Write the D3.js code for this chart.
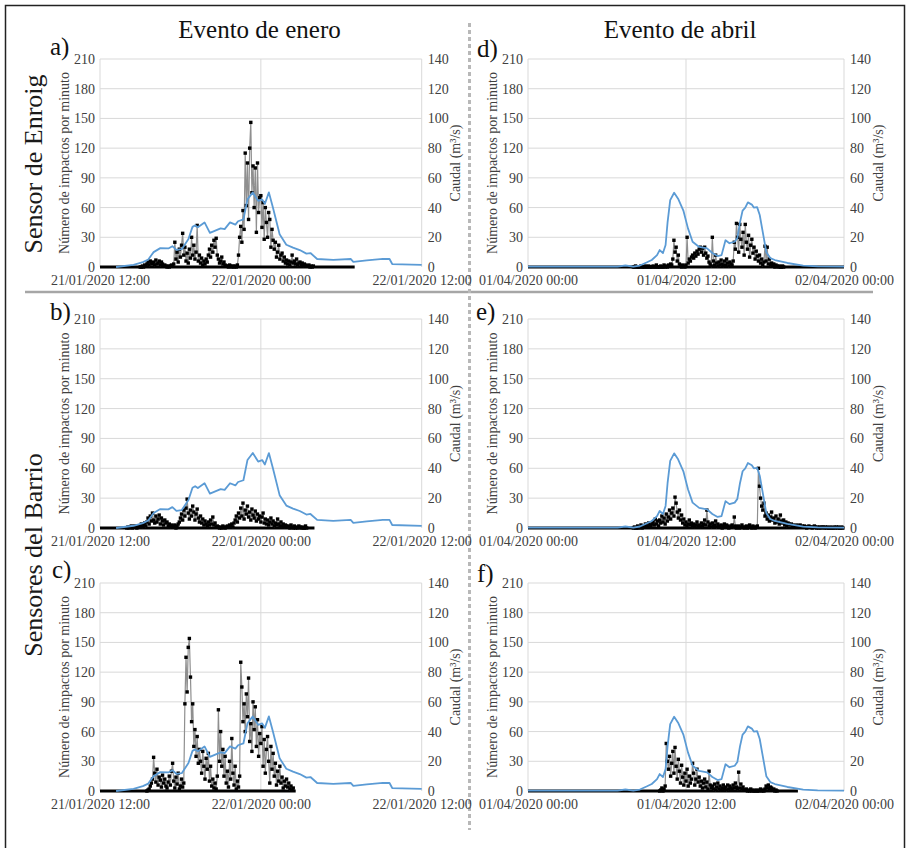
<!DOCTYPE html>
<html><head><meta charset="utf-8">
<script src="https://cdn.jsdelivr.net/npm/d3@7"></script>
<style>
html,body{margin:0;padding:0;background:#fff;}
svg{display:block;}
svg text{font-family:"Liberation Serif","Times New Roman",serif;}
</style></head>
<body>
<svg id="chart" width="907" height="848"></svg>
<script>
// ---------------- DATA ----------------
const yLeftTicks = [0, 30, 60, 90, 120, 150, 180, 210];
const yRightTicks = [0, 20, 40, 60, 80, 100, 120, 140];
const janTickLabels = ["21/01/2020 12:00", "22/01/2020 00:00", "22/01/2020 12:00"];
const aprTickLabels = ["01/04/2020 00:00", "01/04/2020 12:00", "02/04/2020 00:00"];
const columnTitles = ["Evento de enero", "Evento de abril"];
const rowTitles = ["Sensor de Enroig", "Sensores del Barrio"];
const panelLetters = ["a)", "b)", "c)", "d)", "e)", "f)"];
const leftAxisTitle = "Número de impactos por minuto";
const rightAxisTitle = "Caudal (m³/s)";

// Flow (Caudal, m3/s) – hours after 21/01/2020 12:00
const janFlowHours = [1.2,2.5,3.2,3.6,4.0,4.5,5.1,5.4,5.7,6.1,6.6,6.9,7.1,7.3,7.8,8.2,8.6,9.0,9.3,9.7,10.1,10.3,10.7,11.0,11.4,11.8,12.1,12.3,12.6,12.9,13.4,13.9,14.4,14.9,15.4,15.7,16.2,17.4,18.7,18.9,19.9,21.1,21.6,21.8,24];
const janFlowQ     = [0,1.5,3.3,5,10,12.7,12.5,14,11.5,12,18.8,27,28,26.8,30,23,24.5,26,25.5,30,28.5,30.8,32,45.5,50.2,44.5,45.5,42.5,50.2,40,22,15,13,11.4,9,9.4,5.4,4.8,5.4,3.4,4.5,5.4,5.4,2,1.4];
// Flow – hours after 01/04/2020 00:00
const aprFlowHours = [0,6.8,7.4,8.0,8.5,9.0,9.4,9.8,10.0,10.25,10.45,10.6,10.8,11.1,11.4,11.8,12.15,12.5,13.0,13.6,14.0,14.4,14.7,15.0,15.3,15.7,15.9,16.1,16.3,16.5,16.7,17.0,17.15,17.4,17.6,17.8,18.1,18.4,18.75,19.7,20.9,22,24];
const aprFlowQ     = [0.3,0.3,1,0.3,1,3,4.7,8,11.4,9.4,14.8,30,45,50,46,38,26,17,13.5,12.5,9.4,7.4,8,18,16,17,19.5,30,38,40,43.5,42,40,40.3,35,25,10,6,4.7,2.7,0.9,0.4,0.3];

// Impacts per minute, sampled every 5 minutes from the start hour given
const impAStart = 3.0, impAEnd = 19.0;
const impA = [0,0,1,0,2,1, 3,5,2,6,4,3, 5,2,7,3,4,6, 2,5,3,1,2,1, 0,1,0,1,2,1, 3,25,8,15,5,18,
  10,22,34,12,20,6, 14,4,18,9,30,12, 22,8,15,42,6,12, 4,9,2,6,3,8, 5,12,18,10,22,15, 27,20,29,12,8,4,
  6,10,3,5,2,1, 1,0,2,1,0,1, 0,1,0,2,12,30, 41,25,57,38,115,62, 105,48,120,146,75,102, 60,100,35,105,55,70,
  72,40,65,28,60,45, 30,55,48,20,38,27, 18,25,10,15,22,8, 12,14,6,10,4,7, 3,6,2,5,12,4, 6,3,8,2,4,5,
  2,4,1,3,2,1, 1,2,0,1,0,1];
const impBStart = 2.0, impBEnd = 16.0;
const impB = [0,1,0,1,2,0, 1,2,1,0,2,1, 2,4,1,3,5,2, 6,10,4,12,7,15, 8,5,12,6,9,13, 4,10,7,3,8,5,
  6,2,4,1,3,2, 1,3,0,2,4,6, 10,14,8,18,12,20, 29,15,9,18,12,22, 16,8,14,19,10,6, 12,5,9,3,7,4,
  2,6,3,8,4,11, 3,5,1,2,1,0, 1,0,2,1,0,1, 2,1,3,2,4,1, 5,8,12,6,15,10, 20,12,25,9,18,14,
  22,11,16,8,19,13, 10,17,7,14,9,12, 6,11,15,5,9,4, 8,3,6,10,4,7, 2,5,3,9,4,2, 6,2,4,1,3,2,
  1,2,0,3,1,0, 2,0,1,0,2,1, 0,1,0,0,2,0];
const impCStart = 3.5, impCEnd = 14.6;
const impC = [0,1,2,5,8,12, 34,18,9,22,6,14, 11,4,16,8,12,5, 3,9,15,6,20,28, 10,3,14,7,18,2,
  5,12,4,8,88,135, 100,145,154,115,70,88, 45,62,35,55,28,42, 30,18,40,25,12,33, 22,38,10,25,5,12,
  3,8,2,15,82,30, 60,25,42,15,35,8, 20,4,30,12,53,18, 6,25,2,10,4,15, 130,105,70,88,60,98,
  75,114,50,68,40,90, 62,85,45,72,35,58, 48,65,25,52,18,42, 55,30,8,45,22,38, 15,28,6,20,10,25,
  8,14,3,10,5,12, 4,8,2,5,1,3];
const impDStart = 8.0, impDEnd = 24.0;
const impD = [0,0,1,0,0,0, 0,1,0,0,0,1, 0,0,1,0,0,0, 1,0,0,2,0,0, 0,1,0,0,2,0, 1,0,2,1,3,2,
  8,27,15,20,6,12, 3,1,0,2,1,0, 2,30,4,8,6,10, 12,9,14,11,16,13, 18,20,15,19,12,20, 14,9,11,5,3,1,
  30,6,2,12,4,1, 5,2,7,3,1,6, 2,8,4,1,5,3, 2,6,25,18,44,30, 15,43,28,20,35,12, 43,25,18,32,10,22,
  28,14,20,8,16,11, 6,12,4,8,2,5, 21,6,20,3,8,2, 4,1,3,0,2,1, 0,1,0,0,1,0];
const impEStart = 8.0, impEEnd = 24.0;
const impE = [0,1,0,0,2,0, 1,3,0,2,1,4, 2,1,5,3,2,4, 6,3,9,4,7,2, 8,5,12,6,10,4, 14,7,11,18,9,15,
  20,12,31,25,16,10, 18,8,13,5,9,3, 6,2,4,8,3,5, 2,4,1,3,6,2, 3,1,5,2,4,8, 3,18,6,2,4,1,
  5,2,3,7,1,4, 2,1,3,0,2,4, 1,3,2,0,1,2, 3,1,11,2,0,1, 2,0,1,3,1,0, 1,2,0,1,3,1,
  0,2,1,0,1,2, 60,42,30,22,18,25, 12,15,9,13,7,11, 16,8,10,5,12,6, 9,4,13,7,5,8, 3,6,2,5,4,3,
  4,2,3,1,2,3, 1,2,3,1,2,1, 2,1,0,1,2,1, 1,0,1,2,1,0, 1,0,1,0,1,1, 0,1,0,1,0,0,
  1,0,0,1,0,1, 0,1,0,0,1,0];
const impFStart = 10.0, impFEnd = 20.5;
const impF = [0,1,3,0,2,5, 48,30,22,35,15,28, 40,18,44,25,12,32, 20,8,26,14,6,18, 10,22,5,15,8,12,
  28,18,6,12,22,9, 14,5,10,3,8,12, 4,9,2,20,6,3, 5,2,7,1,4,8, 2,5,1,3,6,2, 4,1,6,2,5,3,
  2,6,3,8,4,2, 19,3,7,2,4,1, 1,2,0,1,0,2, 0,1,0,0,1,0, 0,1,2,0,1,0, 2,5,3,6,2,4, 3,1,2,0,1,0];

// ---------------- DRAWING ----------------
const svg = d3.select("#chart");
const FONT = '"Liberation Serif","Times New Roman",serif';
const cols = [{l:100, r:421.7}, {l:528, r:844}];
const rows = [{t:59, b:267}, {t:319, b:528}, {t:583, b:791}];
const events = [
  {start: new Date(2020,0,21,12,0), labels: janTickLabels, fh: janFlowHours, fq: janFlowQ},
  {start: new Date(2020,3,1,0,0), labels: aprTickLabels, fh: aprFlowHours, fq: aprFlowQ}
];
const panels = [
  {c:0, r:0, imp:impA, s:impAStart, e:impAEnd, letter:panelLetters[0], lx:50, ly:55},
  {c:0, r:1, imp:impB, s:impBStart, e:impBEnd, letter:panelLetters[1], lx:50, ly:320},
  {c:0, r:2, imp:impC, s:impCStart, e:impCEnd, letter:panelLetters[2], lx:52, ly:578},
  {c:1, r:0, imp:impD, s:impDStart, e:impDEnd, letter:panelLetters[3], lx:477, ly:57},
  {c:1, r:1, imp:impE, s:impEStart, e:impEEnd, letter:panelLetters[4], lx:476, ly:320},
  {c:1, r:2, imp:impF, s:impFStart, e:impFEnd, letter:panelLetters[5], lx:477, ly:582}
];
const H = 3600e3;
const hd = (ev, h) => new Date(ev.start.getTime() + h*H);

// outer frame & separators
svg.append("rect").attr("x",5.5).attr("y",5.5).attr("width",899).attr("height",860)
  .attr("fill","none").attr("stroke","#222").attr("stroke-width",1.5);
svg.append("line").attr("x1",25).attr("x2",873).attr("y1",292).attr("y2",292)
  .attr("stroke","#a6a6a6").attr("stroke-width",2.5);
svg.append("line").attr("x1",469.5).attr("x2",469.5).attr("y1",23).attr("y2",830)
  .attr("stroke","#b8b8b8").attr("stroke-width",3).attr("stroke-dasharray","4,3");

// column titles
[259.5, 680].forEach((x,i)=>{
  svg.append("text").attr("x",x).attr("y",38).attr("text-anchor","middle")
    .style("font-family",FONT).attr("font-size",25).attr("fill","#111").text(columnTitles[i]);
});
// row titles
[164, 555].forEach((y,i)=>{
  svg.append("text").attr("transform",`translate(42,${y}) rotate(-90)`).attr("text-anchor","middle")
    .style("font-family",FONT).attr("font-size",26).attr("fill","#1a1a1a").text(rowTitles[i]);
});

panels.forEach(p=>{
  const col = cols[p.c], row = rows[p.r], ev = events[p.c];
  const x = d3.scaleTime().domain([hd(ev,0), hd(ev,24)]).range([col.l, col.r]);
  const yL = d3.scaleLinear().domain([0,210]).range([row.b, row.t]);
  const yR = d3.scaleLinear().domain([0,140]).range([row.b, row.t]);
  const g = svg.append("g");
  const xTicks = [0,12,24].map(h=>hd(ev,h));

  // gridlines
  g.append("g").selectAll("line").data(yLeftTicks.slice(1)).join("line")
    .attr("x1",col.l).attr("x2",col.r).attr("y1",d=>yL(d)).attr("y2",d=>yL(d))
    .attr("stroke","#d9d9d9").attr("stroke-width",1);
  g.append("g").selectAll("line").data(xTicks).join("line")
    .attr("x1",d=>x(d)).attr("x2",d=>x(d)).attr("y1",row.t).attr("y2",row.b)
    .attr("stroke","#d9d9d9").attr("stroke-width",1);

  // axes
  const ax = d3.axisBottom(x).tickValues(xTicks).tickSize(0).tickPadding(5)
    .tickFormat((d,i)=>ev.labels[i]);
  const gx = g.append("g").attr("transform",`translate(0,${row.b})`).call(ax);
  const ayl = d3.axisLeft(yL).tickValues(yLeftTicks).tickSize(0).tickPadding(5);
  const gyl = g.append("g").attr("transform",`translate(${col.l},0)`).call(ayl);
  const ayr = d3.axisRight(yR).tickValues(yRightTicks).tickSize(0).tickPadding(6);
  const gyr = g.append("g").attr("transform",`translate(${col.r},0)`).call(ayr);
  [gx,gyl,gyr].forEach(a=>{
    a.attr("font-family",null).attr("font-size",null);
    a.select(".domain").remove();
    a.selectAll("text").style("font-family",FONT).attr("font-size",14).attr("fill","#404040");
  });
  gx.selectAll("text").attr("dy","0.95em");

  // axis titles
  const cy = (row.t+row.b)/2;
  g.append("text").attr("transform",`translate(${col.l-36},${cy}) rotate(-90)`)
    .attr("text-anchor","middle").attr("dominant-baseline","central").style("font-family",FONT)
    .attr("font-size",14).attr("fill","#404040").text(leftAxisTitle);
  g.append("text").attr("transform",`translate(${col.r+34},${cy}) rotate(-90)`)
    .attr("text-anchor","middle").attr("dominant-baseline","central").style("font-family",FONT)
    .attr("font-size",14).attr("fill","#404040").text(rightAxisTitle);

  // panel letter
  svg.append("text").attr("x",p.lx).attr("y",p.ly).style("font-family",FONT)
    .attr("font-size",25).attr("fill","#111").text(p.letter);

  // impacts
  const pts = p.imp.map((v,i)=>({t: hd(ev, p.s + i*5/60), v}));
  g.append("line").attr("x1",x(hd(ev,0))).attr("x2",x(hd(ev,p.e)))
    .attr("y1",yL(0)).attr("y2",yL(0)).attr("stroke","#000").attr("stroke-width",3);
  g.append("path").datum(pts)
    .attr("d", d3.line().x(d=>x(d.t)).y(d=>yL(d.v)))
    .attr("fill","none").attr("stroke","#8f8f8f").attr("stroke-width",1.2);
  g.append("g").selectAll("rect").data(pts).join("rect")
    .attr("x",d=>x(d.t)-1.7).attr("y",d=>yL(d.v)-1.7).attr("width",3.4).attr("height",3.4)
    .attr("fill","#000");

  // flow
  const fpts = ev.fh.map((h,i)=>({t: hd(ev,h), q: ev.fq[i]}));
  g.append("path").datum(fpts)
    .attr("d", d3.line().x(d=>x(d.t)).y(d=>yR(d.q)))
    .attr("fill","none").attr("stroke","#5b9bd5").attr("stroke-width",1.8)
    .attr("stroke-linejoin","round");
});
</script>
</body></html>
